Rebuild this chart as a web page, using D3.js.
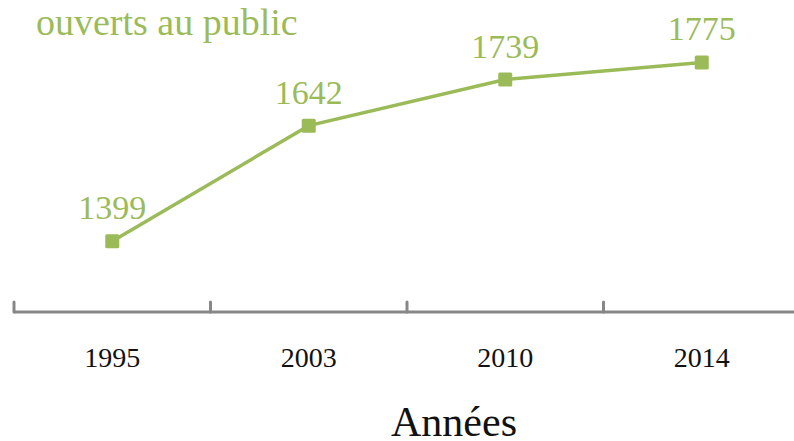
<!DOCTYPE html>
<html>
<head>
<meta charset="utf-8">
<script src="https://cdn.jsdelivr.net/npm/d3@7"></script>
<style>
  body { margin: 0; background: #fff; }
  svg text { font-family: "Liberation Serif", "Times New Roman", Times, serif; }
</style>
</head>
<body>
<svg id="chart" width="794" height="441"></svg>
<script>
// Data
var years  = ["1995", "2003", "2010", "2014"];
var values = [1399, 1642, 1739, 1775];

var svg    = d3.select("#chart");
var green  = "#9bbb59";
var axisY  = 312;

var x = d3.scaleBand().domain(years).range([14, 800]);
var y = d3.scaleLinear().domain([1250, 1900]).range([axisY, 3]);

var points = years.map(function(d, i) { return { year: d, value: values[i] }; });

// Axis line and ticks (ticks point upward)
svg.append("line")
   .attr("x1", x.range()[0]).attr("x2", 794)
   .attr("y1", axisY).attr("y2", axisY)
   .attr("stroke", "#878787").attr("stroke-width", 3);
svg.selectAll(".tick")
   .data(years)
   .enter().append("line")
   .attr("class", "tick")
   .attr("x1", function(d) { return x(d); })
   .attr("x2", function(d) { return x(d); })
   .attr("y1", axisY).attr("y2", axisY - 10)
   .attr("stroke", "#878787").attr("stroke-width", 3)
   .attr("stroke-linecap", "round");

// Tick labels
svg.selectAll(".year")
   .data(years)
   .enter().append("text")
   .attr("class", "year")
   .attr("x", function(d) { return x(d) + x.bandwidth() / 2; })
   .attr("y", 367)
   .attr("text-anchor", "middle")
   .attr("font-size", 28)
   .attr("fill", "#111")
   .text(function(d) { return d; });

// Line
var line = d3.line()
    .x(function(d) { return x(d.year) + x.bandwidth() / 2; })
    .y(function(d) { return y(d.value); });
svg.append("path")
   .datum(points)
   .attr("d", line)
   .attr("fill", "none")
   .attr("stroke", green)
   .attr("stroke-width", 3.5);

// Markers
svg.selectAll(".marker")
   .data(points)
   .enter().append("rect")
   .attr("class", "marker")
   .attr("x", function(d) { return x(d.year) + x.bandwidth() / 2 - 7; })
   .attr("y", function(d) { return y(d.value) - 7; })
   .attr("width", 14).attr("height", 14)
   .attr("rx", 1.5)
   .attr("fill", green);

// Value labels
svg.selectAll(".value")
   .data(points)
   .enter().append("text")
   .attr("class", "value")
   .attr("x", function(d) { return x(d.year) + x.bandwidth() / 2; })
   .attr("y", function(d) { return y(d.value) - 22; })
   .attr("text-anchor", "middle")
   .attr("font-size", 34)
   .attr("fill", green)
   .text(function(d) { return d.value; });

// Title fragment and axis title
svg.append("text")
   .attr("x", 36).attr("y", 35)
   .attr("font-size", 38)
   .attr("fill", green)
   .text("ouverts au public");
svg.append("text")
   .attr("x", 454).attr("y", 436)
   .attr("text-anchor", "middle")
   .attr("font-size", 42)
   .attr("fill", "#111")
   .text("Années");
</script>
</body>
</html>
